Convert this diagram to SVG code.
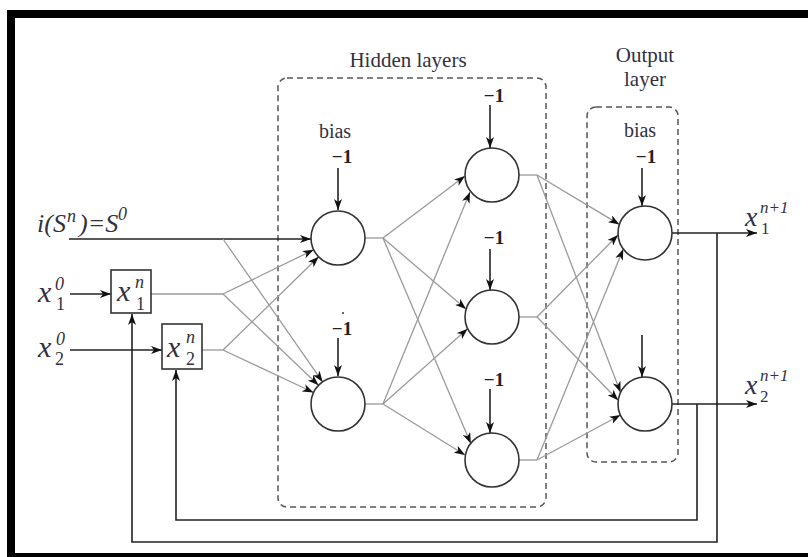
<svg xmlns="http://www.w3.org/2000/svg" width="808" height="557" viewBox="0 0 808 557">
<style>
.frame{fill:#000}
.node{fill:#fff;stroke:#333;stroke-width:1.6}
.box{fill:#fff;stroke:#333;stroke-width:1.6}
.dash{fill:none;stroke:#555;stroke-width:1.5;stroke-dasharray:6 4}
.g{fill:none;stroke:#9a9a9a;stroke-width:1.3}
.k{fill:none;stroke:#222;stroke-width:1.6}
.lbl{font-family:"Liberation Serif",serif;fill:#33303f}
.m{font-family:"Liberation Serif",serif;font-style:italic;fill:#33303f}
.s{font-size:18px}
.t{font-size:17px}
.u{font-style:normal}
.b{font-family:"Liberation Serif",serif;font-weight:bold;font-size:19px;fill:#222;text-anchor:middle}
</style>
<defs>
<marker id="ah" markerUnits="userSpaceOnUse" markerWidth="11" markerHeight="8" refX="11" refY="4" orient="auto">
<path d="M0,0 L11,4 L0,8 L3,4 z" fill="#111"/>
</marker>
</defs>
<rect x="0" y="0" width="808" height="557" fill="#fff"/>
<g id="frame">
<rect class="frame" x="7" y="10" width="801" height="8"/>
<rect class="frame" x="7" y="10" width="8" height="547"/>
<rect class="frame" x="7" y="553" width="801" height="4"/>
</g>
<g id="layers">
<rect class="dash" x="278" y="78" width="268" height="429" rx="9"/>
<rect class="dash" x="587" y="107" width="91" height="355" rx="9"/>
<text class="lbl" x="408" y="67" font-size="21" text-anchor="middle">Hidden layers</text>
<text class="lbl" x="645" y="62" font-size="21" text-anchor="middle">Output</text>
<text class="lbl" x="645" y="86" font-size="21" text-anchor="middle">layer</text>
<text class="lbl" x="335" y="138" font-size="20" text-anchor="middle">bias</text>
<text class="lbl" x="640" y="137" font-size="20" text-anchor="middle">bias</text>
</g>
<g id="connectors">
<line class="k" x1="69" y1="239" x2="311" y2="239" marker-end="url(#ah)"/>
<line class="k" x1="70" y1="294" x2="111" y2="294" marker-end="url(#ah)"/>
<line class="k" x1="70" y1="350" x2="162" y2="350" marker-end="url(#ah)"/>
<line class="g" x1="151" y1="294" x2="223" y2="294"/>
<line class="g" x1="202" y1="350" x2="223" y2="350"/>
<line class="g" x1="223" y1="294" x2="313.7" y2="249.8" marker-end="url(#ah)"/>
<line class="g" x1="223" y1="350" x2="318.7" y2="256.8" marker-end="url(#ah)"/>
<line class="g" x1="223" y1="239" x2="322.6" y2="381.9" marker-end="url(#ah)"/>
<line class="g" x1="223" y1="294" x2="318.5" y2="385.3" marker-end="url(#ah)"/>
<line class="g" x1="223" y1="350" x2="313.5" y2="392.5" marker-end="url(#ah)"/>
<line class="g" x1="365" y1="238" x2="383" y2="238"/>
<line class="g" x1="365" y1="404" x2="383" y2="404"/>
<line class="g" x1="383" y1="238" x2="465" y2="176" marker-end="url(#ah)"/>
<line class="g" x1="383" y1="238" x2="466" y2="309" marker-end="url(#ah)"/>
<line class="g" x1="383" y1="238" x2="470.8" y2="443.5" marker-end="url(#ah)"/>
<line class="g" x1="383" y1="404" x2="470" y2="192" marker-end="url(#ah)"/>
<line class="g" x1="383" y1="404" x2="467.6" y2="328.8" marker-end="url(#ah)"/>
<line class="g" x1="383" y1="404" x2="465" y2="455" marker-end="url(#ah)"/>
<line class="g" x1="519" y1="175" x2="537" y2="175"/>
<line class="g" x1="519" y1="317" x2="537" y2="317"/>
<line class="g" x1="519" y1="460" x2="537" y2="460"/>
<line class="g" x1="537" y1="175" x2="619.4" y2="224.4" marker-end="url(#ah)"/>
<line class="g" x1="537" y1="317" x2="618" y2="235" marker-end="url(#ah)"/>
<line class="g" x1="537" y1="460" x2="623.3" y2="249" marker-end="url(#ah)"/>
<line class="g" x1="537" y1="175" x2="620.6" y2="392.4" marker-end="url(#ah)"/>
<line class="g" x1="537" y1="317" x2="618.2" y2="400.3" marker-end="url(#ah)"/>
<line class="g" x1="537" y1="460" x2="620.5" y2="415" marker-end="url(#ah)"/>
<line class="k" x1="338" y1="168" x2="338" y2="210" marker-end="url(#ah)"/>
<line class="k" x1="338" y1="338" x2="338" y2="376" marker-end="url(#ah)"/>
<line class="k" x1="490" y1="105" x2="490" y2="148" marker-end="url(#ah)"/>
<line class="k" x1="490" y1="249" x2="490" y2="290" marker-end="url(#ah)"/>
<line class="k" x1="490" y1="389" x2="490" y2="433" marker-end="url(#ah)"/>
<line class="k" x1="642" y1="168" x2="642" y2="206" marker-end="url(#ah)"/>
<line class="k" x1="642" y1="335" x2="642" y2="377" marker-end="url(#ah)"/>
<line class="k" x1="672" y1="233" x2="757" y2="233" marker-end="url(#ah)"/>
<line class="k" x1="672" y1="404" x2="757" y2="404" marker-end="url(#ah)"/>
<path class="k" d="M717,233 V542 H132 V314" marker-end="url(#ah)"/>
<path class="k" d="M697,404 V520 H176 V370" marker-end="url(#ah)"/>
</g>
<g id="input-labels">
<text class="m" x="37" y="232" font-size="26">i(S<tspan class="s" x="67" y="222">n</tspan><tspan x="79" y="232">)=S</tspan><tspan class="s" x="118" y="220">0</tspan></text>
<text class="m" x="38" y="302" font-size="30">x<tspan class="s" x="55" y="290">0</tspan><tspan class="s u" x="56" y="310">1</tspan></text>
<text class="m" x="38" y="357" font-size="30">x<tspan class="s" x="56" y="345">0</tspan><tspan class="s u" x="55" y="365">2</tspan></text>
</g>
<g id="box-x1">
<rect class="box" x="111" y="270" width="40" height="43"/>
<text class="m" x="117" y="301" font-size="30">x<tspan class="s" x="135" y="288">n</tspan><tspan class="s u" x="136" y="310">1</tspan></text>
</g>
<g id="box-x2">
<rect class="box" x="162" y="324" width="40" height="45"/>
<text class="m" x="167" y="357" font-size="30">x<tspan class="s" x="186" y="343">n</tspan><tspan class="s u" x="186" y="365">2</tspan></text>
</g>
<g id="h1a">
<circle class="node" cx="338" cy="238" r="27"/>
<text class="b" x="342" y="163">−1</text>
</g>
<g id="h1b">
<circle class="node" cx="338" cy="404" r="27"/>
<text class="b" x="342" y="335">−1</text>
<circle cx="343" cy="313" r="1" fill="#333"/>
</g>
<g id="h2a">
<circle class="node" cx="492" cy="175" r="27"/>
<text class="b" x="494" y="102">−1</text>
</g>
<g id="h2b">
<circle class="node" cx="492" cy="317" r="27"/>
<text class="b" x="494" y="244">−1</text>
</g>
<g id="h2c">
<circle class="node" cx="492" cy="460" r="27"/>
<text class="b" x="494" y="386">−1</text>
</g>
<g id="o1">
<circle class="node" cx="645" cy="233" r="27"/>
<text class="b" x="646" y="163">−1</text>
</g>
<g id="o2">
<circle class="node" cx="645" cy="404" r="27"/>
</g>
<g id="output-labels">
<text class="m" x="745" y="226" font-size="28">x<tspan class="t" x="760" y="213">n+1</tspan><tspan class="t u" x="761" y="234">1</tspan></text>
<text class="m" x="745" y="394" font-size="28">x<tspan class="t" x="760" y="381">n+1</tspan><tspan class="t u" x="760" y="402">2</tspan></text>
</g>
</svg>
